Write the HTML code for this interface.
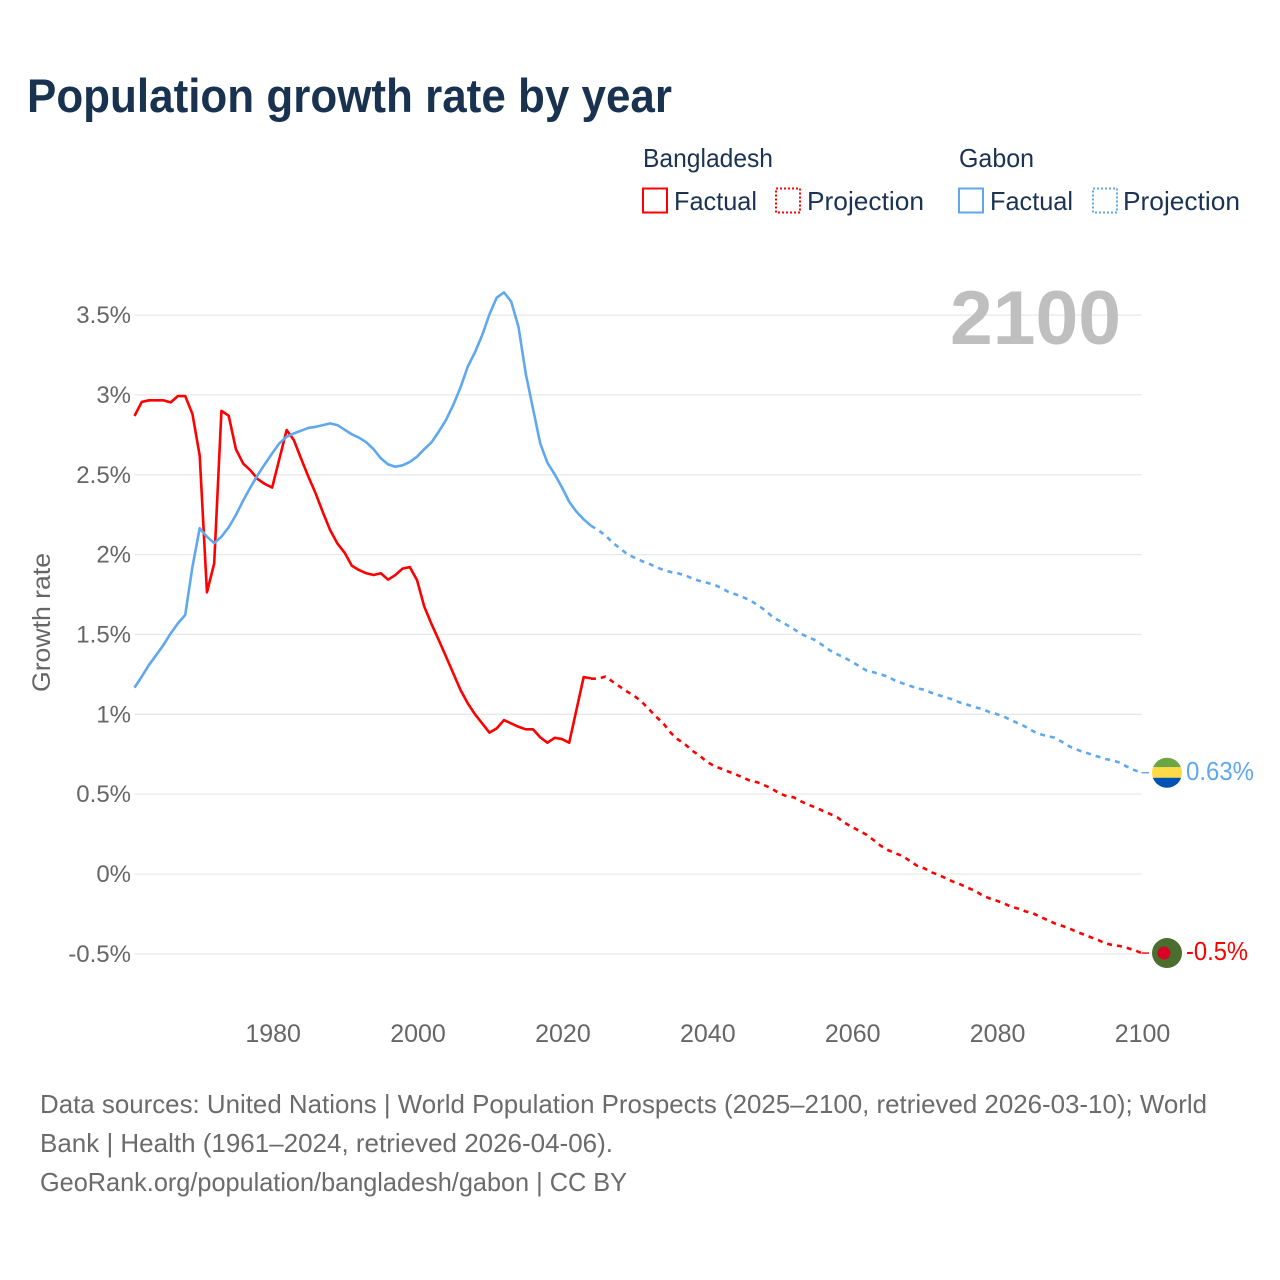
<!DOCTYPE html>
<html lang="en">
<head>
<meta charset="utf-8">
<title>Population growth rate by year</title>
<style>
  html, body { margin: 0; padding: 0; background: #fff; }
  svg { display: block; font-family: "Liberation Sans", sans-serif; }
</style>
</head>
<body>
<svg id="chart" xmlns="http://www.w3.org/2000/svg" width="1280" height="1280" viewBox="0 0 1280 1280">
  <rect x="0" y="0" width="1280" height="1280" fill="#ffffff"/>
  <text x="27" y="112" font-size="47" font-weight="700" fill="#18324f" textLength="645" lengthAdjust="spacingAndGlyphs">Population growth rate by year</text>

  <g font-size="26" fill="#1b3352">
    <text x="643" y="167" textLength="130" lengthAdjust="spacingAndGlyphs">Bangladesh</text>
    <text x="959" y="167" textLength="75" lengthAdjust="spacingAndGlyphs">Gabon</text>
    <rect x="643" y="188.5" width="24" height="24" fill="none" stroke="#ff0000" stroke-width="2"/>
    <text x="674" y="210" textLength="83" lengthAdjust="spacingAndGlyphs">Factual</text>
    <rect x="776" y="188.5" width="24" height="24" fill="none" stroke="#ff0000" stroke-width="2" stroke-dasharray="2 2"/>
    <text x="807" y="210" textLength="117" lengthAdjust="spacingAndGlyphs">Projection</text>
    <rect x="959" y="188.5" width="24" height="24" fill="none" stroke="#5fa8ee" stroke-width="2"/>
    <text x="990" y="210" textLength="83" lengthAdjust="spacingAndGlyphs">Factual</text>
    <rect x="1093" y="188.5" width="24" height="24" fill="none" stroke="#5fa8ee" stroke-width="2" stroke-dasharray="2 2"/>
    <text x="1123" y="210" textLength="117" lengthAdjust="spacingAndGlyphs">Projection</text>
  </g>

  <g id="grid"></g>
  <g id="yticks" font-size="24" fill="#666666" text-anchor="end"></g>
  <g id="xticks" font-size="25" fill="#666666" text-anchor="middle"></g>
  <text transform="translate(50 692) rotate(-90)" font-size="25" fill="#666666" textLength="139" lengthAdjust="spacingAndGlyphs">Growth rate</text>
  <text x="950" y="344" font-size="76" font-weight="700" fill="#bfbfbf" textLength="171" lengthAdjust="spacingAndGlyphs">2100</text>

  <g id="series" fill="none" stroke-linejoin="round"></g>
  <g id="endmarks"></g>

  <g font-size="26" fill="#6b6b6b">
    <text x="40" y="1113" textLength="1167" lengthAdjust="spacingAndGlyphs">Data sources: United Nations | World Population Prospects (2025–2100, retrieved 2026-03-10); World</text>
    <text x="40" y="1152" textLength="573" lengthAdjust="spacingAndGlyphs">Bank | Health (1961–2024, retrieved 2026-04-06).</text>
    <text x="40" y="1191" textLength="587" lengthAdjust="spacingAndGlyphs">GeoRank.org/population/bangladesh/gabon | CC BY</text>
  </g>
</svg>

<script>
const yTickValues = [-0.5, 0, 0.5, 1, 1.5, 2, 2.5, 3, 3.5];
const yTickLabels = ["-0.5%", "0%", "0.5%", "1%", "1.5%", "2%", "2.5%", "3%", "3.5%"];
const xTickYears = [1980, 2000, 2020, 2040, 2060, 2080, 2100];
const xTickLabels = ["1980", "2000", "2020", "2040", "2060", "2080", "2100"];
const factualStartYear = 1961;
const projectionStartYear = 2024;

const bangladeshFactual = [
  2.868, 2.956, 2.966, 2.966, 2.966, 2.953, 2.993, 2.993, 2.88, 2.62,
  1.764, 1.945, 2.90, 2.87, 2.66, 2.57, 2.528, 2.473, 2.442, 2.42,
  2.60, 2.78, 2.717, 2.60, 2.488, 2.384, 2.265, 2.154, 2.07, 2.012,
  1.93, 1.903, 1.883, 1.872, 1.883, 1.843, 1.872, 1.912, 1.922, 1.84,
  1.674, 1.565, 1.465, 1.361, 1.257, 1.152, 1.069, 1.0, 0.943, 0.885,
  0.912, 0.964, 0.943, 0.922, 0.906, 0.906, 0.856, 0.822, 0.853, 0.845,
  0.822, 1.027, 1.233, 1.225
];
const bangladeshProjection = [
  1.223, 1.223, 1.236, 1.204, 1.173, 1.142, 1.115, 1.079, 1.033, 0.985,
  0.943, 0.885, 0.843, 0.812, 0.772, 0.741, 0.703, 0.676, 0.659, 0.641,
  0.624, 0.603, 0.584, 0.574, 0.555, 0.534, 0.505, 0.488, 0.48, 0.455,
  0.434, 0.417, 0.396, 0.376, 0.355, 0.321, 0.296, 0.271, 0.247, 0.213,
  0.177, 0.15, 0.13, 0.113, 0.083, 0.052, 0.036, 0.011, -0.006, -0.027,
  -0.048, -0.065, -0.086, -0.105, -0.133, -0.152, -0.167, -0.184, -0.205, -0.217,
  -0.234, -0.246, -0.267, -0.288, -0.309, -0.324, -0.34, -0.361, -0.378, -0.396,
  -0.413, -0.434, -0.445, -0.451, -0.463, -0.476, -0.495
];
const gabonFactual = [
  1.167, 1.236, 1.309, 1.371, 1.434, 1.507, 1.57, 1.622, 1.924, 2.165,
  2.112, 2.072, 2.112, 2.171, 2.248, 2.338, 2.421, 2.498, 2.567, 2.634,
  2.697, 2.738, 2.759, 2.776, 2.793, 2.80, 2.811, 2.822, 2.811, 2.782,
  2.753, 2.732, 2.703, 2.66, 2.603, 2.565, 2.55, 2.559, 2.58, 2.613,
  2.66, 2.703, 2.77, 2.843, 2.937, 3.047, 3.177, 3.267, 3.375, 3.505,
  3.609, 3.642, 3.584, 3.427, 3.135, 2.915, 2.697, 2.575, 2.503, 2.421,
  2.331, 2.269, 2.221, 2.181
];
const gabonProjection = [
  2.181, 2.154, 2.12, 2.075, 2.039, 2.004, 1.981, 1.96, 1.943, 1.922,
  1.904, 1.891, 1.883, 1.87, 1.851, 1.835, 1.824, 1.812, 1.791, 1.766,
  1.751, 1.733, 1.714, 1.684, 1.653, 1.613, 1.586, 1.561, 1.534, 1.503,
  1.484, 1.463, 1.432, 1.40, 1.376, 1.354, 1.33, 1.302, 1.275, 1.263,
  1.25, 1.236, 1.211, 1.194, 1.179, 1.163, 1.154, 1.135, 1.119, 1.106,
  1.092, 1.073, 1.06, 1.044, 1.033, 1.014, 1.002, 0.985, 0.964, 0.943,
  0.922, 0.895, 0.875, 0.864, 0.854, 0.828, 0.80, 0.78, 0.764, 0.75,
  0.735, 0.72, 0.712, 0.697, 0.672, 0.651, 0.634
];
const endValueLabels = ["0.63%", "-0.5%"];

const SVG_NS = "http://www.w3.org/2000/svg";
const RED = "#ff0000";
const BLUE = "#5fa8ee";
const LINE_WIDTH = "2.6";
const plotLeft = 134.5;
const plotRight = 1141.5;

function xScale(year) {
  return plotLeft + (year - 1961) * (plotRight - plotLeft) / (2100 - 1961);
}
function yScale(value) {
  return 874 - value * 159.7;
}
function linePath(values, startYear) {
  return values.map(function (v, i) {
    return (i ? "L" : "M") + xScale(startYear + i).toFixed(2) + " " + yScale(v).toFixed(2);
  }).join(" ");
}
function make(tag) {
  return document.createElementNS(SVG_NS, tag);
}

const grid = document.getElementById("grid");
const yticks = document.getElementById("yticks");
const xticks = document.getElementById("xticks");
const series = document.getElementById("series");
const endmarks = document.getElementById("endmarks");

yTickValues.forEach(function (v, i) {
  const line = make("line");
  
  
  line.setAttribute("x1", plotLeft);
  line.setAttribute("x2", plotRight);
  line.setAttribute("y1", yScale(v));
  line.setAttribute("y2", yScale(v));
  line.setAttribute("stroke", "#e9e9e9");
  line.setAttribute("stroke-width", "1.3");
  grid.appendChild(line);

  const label = make("text");
  
  
  label.setAttribute("x", 131);
  label.setAttribute("y", yScale(v) + 8);
  label.textContent = yTickLabels[i];
  yticks.appendChild(label);
});

xTickYears.forEach(function (year, i) {
  const label = make("text");
  
  
  label.setAttribute("x", xScale(year) + 1);
  label.setAttribute("y", 1042);
  label.textContent = xTickLabels[i];
  xticks.appendChild(label);
});

const bdProjectionPath = make("path");


bdProjectionPath.setAttribute("d", linePath(bangladeshProjection, projectionStartYear));
bdProjectionPath.setAttribute("stroke", RED);
bdProjectionPath.setAttribute("stroke-width", LINE_WIDTH);
bdProjectionPath.setAttribute("stroke-dasharray", "5 5");
series.appendChild(bdProjectionPath);

const gaProjectionPath = make("path");


gaProjectionPath.setAttribute("d", linePath(gabonProjection, projectionStartYear));
gaProjectionPath.setAttribute("stroke", BLUE);
gaProjectionPath.setAttribute("stroke-width", LINE_WIDTH);
gaProjectionPath.setAttribute("stroke-dasharray", "5 5");
series.appendChild(gaProjectionPath);

const bdFactualPath = make("path");


bdFactualPath.setAttribute("d", linePath(bangladeshFactual, factualStartYear));
bdFactualPath.setAttribute("stroke", RED);
bdFactualPath.setAttribute("stroke-width", LINE_WIDTH);
series.appendChild(bdFactualPath);

const gaFactualPath = make("path");


gaFactualPath.setAttribute("d", linePath(gabonFactual, factualStartYear));
gaFactualPath.setAttribute("stroke", BLUE);
gaFactualPath.setAttribute("stroke-width", LINE_WIDTH);
series.appendChild(gaFactualPath);

/* End markers */
const gaEndValue = gabonProjection[gabonProjection.length - 1];
const bdEndValue = bangladeshProjection[bangladeshProjection.length - 1];
const gaEndY = yScale(gaEndValue);
const bdEndY = yScale(bdEndValue);
const flagX = 1167;
const flagR = 15;

const gaConnector = make("line");


gaConnector.setAttribute("x1", xScale(2100));
gaConnector.setAttribute("x2", 1149);
gaConnector.setAttribute("y1", gaEndY);
gaConnector.setAttribute("y2", gaEndY);
gaConnector.setAttribute("stroke", BLUE);
gaConnector.setAttribute("stroke-width", "1.4");
endmarks.appendChild(gaConnector);

const bdConnector = make("line");


bdConnector.setAttribute("x1", xScale(2100));
bdConnector.setAttribute("x2", 1149);
bdConnector.setAttribute("y1", bdEndY);
bdConnector.setAttribute("y2", bdEndY);
bdConnector.setAttribute("stroke", RED);
bdConnector.setAttribute("stroke-width", "1.4");
endmarks.appendChild(bdConnector);

const clipDefs = make("defs");
const clip = make("clipPath");
clip.setAttribute("id", "ga-clip");
const clipCircle = make("circle");
clipCircle.setAttribute("cx", flagX);
clipCircle.setAttribute("cy", gaEndY);
clipCircle.setAttribute("r", flagR);
clip.appendChild(clipCircle);
clipDefs.appendChild(clip);
endmarks.appendChild(clipDefs);

const gaFlag = make("g");


gaFlag.setAttribute("clip-path", "url(#ga-clip)");
const stripeColors = ["#6da544", "#ffda44", "#0052b4"];
const stripeStarts = [-16, -5.5, 5];
const stripeHeights = [10.5, 10.5, 11];
stripeColors.forEach(function (color, i) {
  const stripe = make("rect");
  
  
  stripe.setAttribute("x", flagX - flagR);
  stripe.setAttribute("y", gaEndY + stripeStarts[i]);
  stripe.setAttribute("width", flagR * 2);
  stripe.setAttribute("height", stripeHeights[i]);
  stripe.setAttribute("fill", color);
  gaFlag.appendChild(stripe);
});
endmarks.appendChild(gaFlag);

const bdFlag = make("g");


const bdField = make("circle");


bdField.setAttribute("cx", flagX);
bdField.setAttribute("cy", bdEndY);
bdField.setAttribute("r", flagR);
bdField.setAttribute("fill", "#496e2d");
bdFlag.appendChild(bdField);
const bdDisc = make("circle");


bdDisc.setAttribute("cx", flagX - 3);
bdDisc.setAttribute("cy", bdEndY);
bdDisc.setAttribute("r", 6.5);
bdDisc.setAttribute("fill", "#d80027");
bdFlag.appendChild(bdDisc);
endmarks.appendChild(bdFlag);

const gaLabel = make("text");


gaLabel.setAttribute("x", 1186);
gaLabel.setAttribute("y", gaEndY + 7);
gaLabel.setAttribute("font-size", "26");
gaLabel.setAttribute("fill", BLUE);
gaLabel.setAttribute("textLength", "68");
gaLabel.setAttribute("lengthAdjust", "spacingAndGlyphs");
gaLabel.textContent = endValueLabels[0];
endmarks.appendChild(gaLabel);

const bdLabel = make("text");


bdLabel.setAttribute("x", 1186);
bdLabel.setAttribute("y", bdEndY + 7);
bdLabel.setAttribute("font-size", "26");
bdLabel.setAttribute("fill", RED);
bdLabel.setAttribute("textLength", "62");
bdLabel.setAttribute("lengthAdjust", "spacingAndGlyphs");
bdLabel.textContent = endValueLabels[1];
endmarks.appendChild(bdLabel);
</script>
</body>
</html>
